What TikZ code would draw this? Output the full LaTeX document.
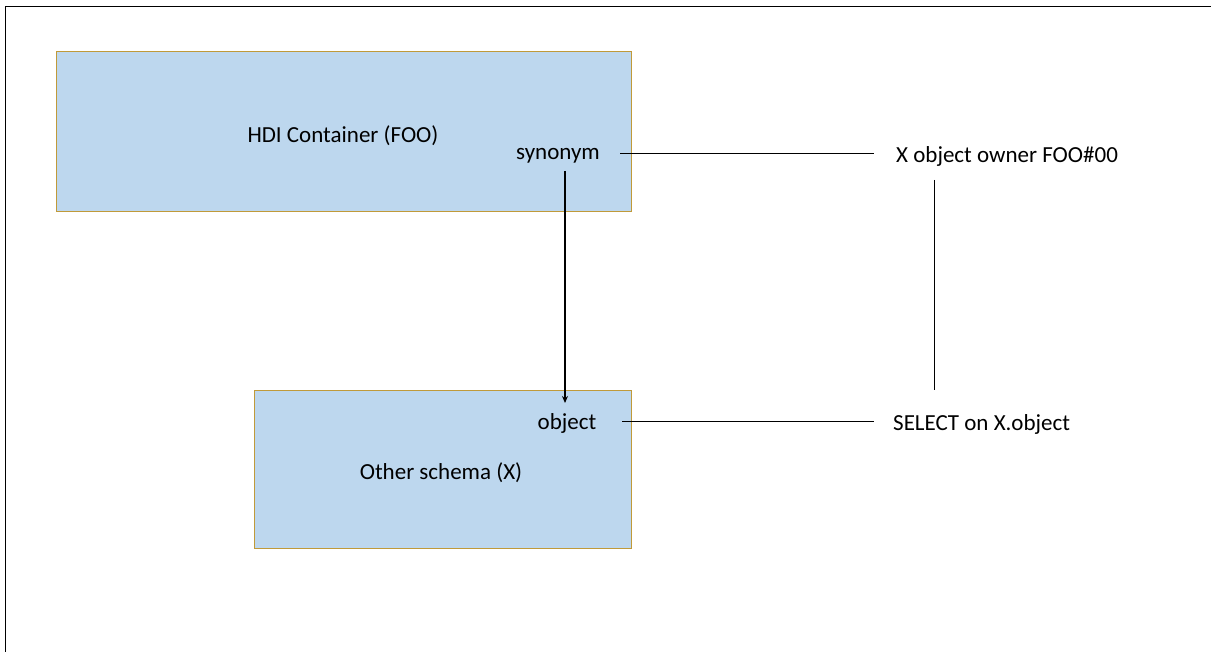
\documentclass[tikz,border=0pt]{standalone}
\usepackage{fontspec}
\setmainfont{Carlito}
\usetikzlibrary{arrows.meta}
\definecolor{boxfill}{HTML}{BDD7EE}
\definecolor{boxedge}{HTML}{C09A3A}
\begin{document}
\begin{tikzpicture}[x=1pt,y=-1pt,
  schema/.style={draw=boxedge,fill=boxfill,line width=0.9pt},
  lbl/.style={inner sep=0pt,font=\fontsize{23}{27}\selectfont},
  link/.style={draw=black,line width=0.8pt}]
\useasboundingbox (0,0) rectangle (1211,652);
% frame edges
\draw[line width=1.8pt] (5.5,652) -- (5.5,6.5) -- (1211,6.5);
% schemas
\node[schema,minimum width=575pt,minimum height=160pt,inner sep=0pt] (hdi) at (343.5,131) {};
\node[schema,minimum width=377pt,minimum height=158pt,inner sep=0pt] (other) at (442.5,469) {};
% texts
\node[lbl] (hdit) at (343,136) {HDI Container (FOO)};
\node[lbl] (syn) at (558,156) {synonym};
\node[lbl] (obj) at (567,423) {object};
\node[lbl] (othert) at (441,473) {Other schema (X)};
\node[lbl,anchor=west] (owner) at (896,156) {X object owner FOO\#00};
\node[lbl,anchor=west] (select) at (893,424) {SELECT on X.object};
% connectors
\coordinate (synR) at (620,153);
\coordinate (ownL) at (874,153);
\coordinate (objR) at (622,421);
\coordinate (selL) at (874,421);
\coordinate (vt) at (934,180);
\coordinate (vb) at (934,390);
\coordinate (aTop) at (565,171);
\coordinate (aBot) at (565,403);
\draw[link] (synR) -- (ownL);
\draw[link] (objR) -- (selL);
\draw[link] (vt) -- (vb);
\draw[line width=1.4pt,-{Stealth[length=7pt,width=6pt]}] (aTop) -- (aBot);
\end{tikzpicture}
\end{document}
